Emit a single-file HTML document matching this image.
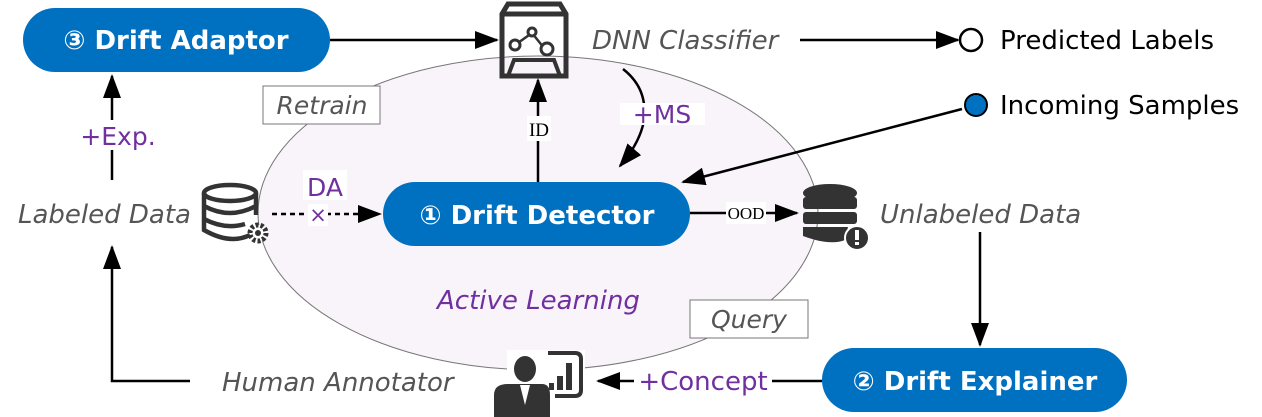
<!DOCTYPE html>
<html><head><meta charset="utf-8"><style>body{margin:0;background:#fff}svg{display:block}</style></head>
<body>
<svg width="1262" height="417" viewBox="0 0 1262 417" xmlns="http://www.w3.org/2000/svg" font-family="'DejaVu Sans','Liberation Sans',sans-serif">
<defs>
<marker id="ahb" markerWidth="24" markerHeight="18" refX="22" refY="9" orient="auto" markerUnits="userSpaceOnUse" viewBox="0 0 24 18"><path d="M0,0 L24,9 L0,18 Z" fill="#000"/></marker>
</defs>
<ellipse cx="538" cy="213" rx="280" ry="157" fill="#f9f4f9" stroke="#777" stroke-width="1"/>
<rect x="23" y="8" width="307" height="64" rx="32" fill="#0070c0"/>
<text x="176" y="49" fill="#fff" font-size="26" font-weight="bold" text-anchor="middle">③ Drift Adaptor</text>
<rect x="383" y="182" width="307" height="64" rx="32" fill="#0070c0"/>
<text x="537" y="224" fill="#fff" font-size="26" font-weight="bold" text-anchor="middle">① Drift Detector</text>
<rect x="822" y="348" width="305" height="64" rx="32" fill="#0070c0"/>
<text x="975" y="390" fill="#fff" font-size="26" font-weight="bold" text-anchor="middle">② Drift Explainer</text>
<g stroke="#333" fill="none" stroke-width="5">
<path d="M508,4 L560,4 L566,14 L566,76 L502,76 L502,14 Z"/>
<line x1="502" y1="14" x2="566" y2="14"/>
<path d="M508,76 L514,60 L554,60 L560,76" stroke-width="4"/>
<polyline points="515,45 532,33 544,48" stroke-width="2.5"/>
</g>
<circle cx="515" cy="45" r="5" fill="#fff" stroke="#333" stroke-width="3"/>
<circle cx="532" cy="32" r="4" fill="#fff" stroke="#333" stroke-width="3"/>
<circle cx="547" cy="49" r="6" fill="#fff" stroke="#333" stroke-width="3"/>
<line x1="330" y1="40" x2="497" y2="40" stroke="#000" stroke-width="2.5" marker-end="url(#ahb)"/>
<text x="592" y="49" fill="#555" font-size="26" font-style="italic">DNN Classifier</text>
<line x1="800" y1="40" x2="958" y2="40" stroke="#000" stroke-width="2.5" marker-end="url(#ahb)"/>
<circle cx="971" cy="40" r="11" fill="#fff" stroke="#000" stroke-width="2.5"/>
<text x="1000" y="49" fill="#000" font-size="26">Predicted Labels</text>
<circle cx="976" cy="105" r="11" fill="#0070c0" stroke="#000" stroke-width="2"/>
<text x="1000" y="114" fill="#000" font-size="26">Incoming Samples</text>
<line x1="962" y1="109" x2="683" y2="182" stroke="#000" stroke-width="2.5" marker-end="url(#ahb)"/>
<line x1="538" y1="182" x2="538" y2="80" stroke="#000" stroke-width="2.5" marker-end="url(#ahb)"/>
<rect x="527" y="116" width="24" height="25" fill="#fff"/>
<text x="539" y="136" font-family="'Liberation Serif',serif" font-size="19" text-anchor="middle">ID</text>
<path d="M623,69 Q650,90 643,125 Q638,145 620,166" stroke="#000" stroke-width="2.5" fill="none" marker-end="url(#ahb)"/>
<rect x="620" y="103" width="85" height="22" fill="#fff"/>
<text x="662" y="123" fill="#7030a0" font-size="25" text-anchor="middle">+MS</text>
<rect x="263" y="86" width="117" height="38" fill="#fff" stroke="#777"/>
<text x="322" y="114" fill="#555" font-size="25" font-style="italic" text-anchor="middle">Retrain</text>
<text x="18" y="223" fill="#555" font-size="26" font-style="italic">Labeled Data</text>
<g fill="none" stroke="#333" stroke-width="4.5">
<ellipse cx="230" cy="193" rx="26" ry="8"/>
<path d="M204,193 L204,230 Q230,245 250,235 M256,193 L256,215"/>
<path d="M204,206 Q230,220 256,206 M204,219 Q225,230 245,224"/>
</g>
<circle cx="258" cy="233" r="8" fill="#fff" stroke="#333" stroke-width="5" stroke-dasharray="3 2"/>
<circle cx="258" cy="233" r="3" fill="#333"/>
<line x1="272" y1="214" x2="380" y2="214" stroke="#000" stroke-width="2.5" stroke-dasharray="5 4" marker-end="url(#ahb)"/>
<rect x="303" y="170" width="44" height="30" fill="#fff"/>
<text x="325" y="196" fill="#7030a0" font-size="25" text-anchor="middle">DA</text>
<rect x="308" y="204" width="20" height="22" fill="#fff"/>
<text x="318" y="222" fill="#7030a0" font-size="21" text-anchor="middle">×</text>
<line x1="690" y1="213" x2="797" y2="213" stroke="#000" stroke-width="2.5" marker-end="url(#ahb)"/>
<rect x="726" y="202" width="40" height="22" fill="#fff"/>
<text x="746" y="219" font-family="'Liberation Serif',serif" font-size="17" text-anchor="middle">OOD</text>
<g fill="#333">
<ellipse cx="830" cy="193" rx="27" ry="9"/>
<rect x="803" y="197" width="54" height="12" rx="3"/>
<rect x="803" y="212" width="54" height="12" rx="3"/>
<path d="M803,227 L848,227 L845,240 Q830,246 803,236 Z"/>
</g>
<circle cx="857" cy="238" r="12" fill="#333" stroke="#fff" stroke-width="2"/>
<rect x="855" y="230" width="4" height="10" fill="#fff"/><rect x="855" y="242" width="4" height="3" fill="#fff"/>
<text x="880" y="223" fill="#555" font-size="26" font-style="italic">Unlabeled Data</text>
<line x1="980" y1="232" x2="980" y2="345" stroke="#000" stroke-width="2.5" marker-end="url(#ahb)"/>
<text x="437" y="309" fill="#7030a0" font-size="26" font-style="italic">Active Learning</text>
<rect x="690" y="300" width="118" height="38" fill="#fff" stroke="#777"/>
<text x="749" y="328" fill="#555" font-size="25" font-style="italic" text-anchor="middle">Query</text>
<line x1="822" y1="381" x2="598" y2="381" stroke="#000" stroke-width="2.5" marker-end="url(#ahb)"/>
<rect x="634" y="365" width="138" height="30" fill="#fff"/>
<text x="703" y="390" fill="#7030a0" font-size="26" text-anchor="middle">+Concept</text>
<rect x="507" y="350" width="78" height="60" fill="#fff"/>
<path d="M548,353 L575,353 Q581,353 581,359 L581,390 Q581,396 575,396 L555,396" fill="none" stroke="#333" stroke-width="4"/>
<rect x="566" y="363" width="6" height="27" fill="#333"/><rect x="557" y="376" width="6" height="14" fill="#333"/><rect x="549" y="383" width="5" height="7" fill="#333"/>
<ellipse cx="525" cy="369" rx="11" ry="13" fill="#333"/>
<path d="M494,417 L494,395 Q494,384 508,384 L542,384 Q550,384 550,395 L550,417 Z" fill="#333"/>
<path d="M520,385 L530,385 L525,405 Z" fill="#fff"/>
<text x="222" y="391" fill="#555" font-size="26" font-style="italic">Human Annotator</text>
<polyline points="190,381 112,381 112,247" fill="none" stroke="#000" stroke-width="2.5" marker-end="url(#ahb)"/>
<line x1="112" y1="180" x2="112" y2="76" stroke="#000" stroke-width="2.5" marker-end="url(#ahb)"/>
<rect x="74" y="120" width="84" height="30" fill="#fff"/>
<text x="118" y="145" fill="#7030a0" font-size="25" text-anchor="middle">+Exp.</text>
</svg>
</body></html>
